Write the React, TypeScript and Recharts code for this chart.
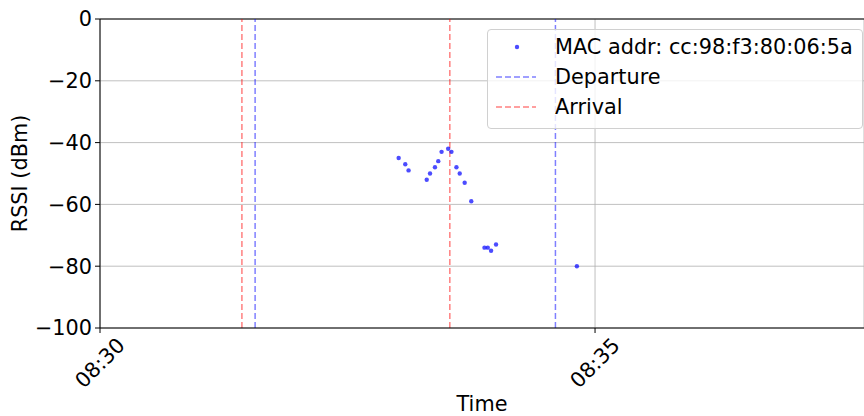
import React from 'react';
import {
  ScatterChart,
  Scatter,
  XAxis,
  YAxis,
  CartesianGrid,
  ReferenceLine,
  Label,
} from 'recharts';

// RSSI samples for one device (time, dBm)
const sampleTimes = [
  '08:33:01', '08:33:05', '08:33:07', '08:33:18', '08:33:20', '08:33:23',
  '08:33:25', '08:33:27', '08:33:31', '08:33:33', '08:33:36', '08:33:38',
  '08:33:41', '08:33:45', '08:33:53', '08:33:55', '08:33:57', '08:34:00',
  '08:34:49',
];
const rssiValues = [
  -45, -47, -49, -52, -50, -48,
  -46, -43, -42, -43, -48, -50,
  -53, -59, -74, -74, -75, -73,
  -80,
];
const departures = ['08:31:34', '08:34:36'];
const arrivals = ['08:31:26', '08:33:32'];
const xTickLabels = ['08:30', '08:35'];
const xRange = ['08:30:00', '08:37:43'];
const yTicks = [0, -20, -40, -60, -80, -100];
const macAddr = 'cc:98:f3:80:06:5a';

const toSec = (s: string) => {
  const [h, m, sec] = s.split(':').map(Number);
  return h * 3600 + m * 60 + (sec || 0);
};
const fmtTime = (v: number) => {
  const h = Math.floor(v / 3600);
  const m = Math.floor((v % 3600) / 60);
  return `${String(h).padStart(2, '0')}:${String(m).padStart(2, '0')}`;
};

const data = sampleTimes.map((t, i) => ({ t: toSec(t), rssi: rssiValues[i] }));

const FONT = '"DejaVu Sans", sans-serif';
const FS = 20.8;

const XTick = (props: any) => {
  const { x, y, payload } = props;
  return (
    <text
      transform={`translate(${x},${y + 30}) rotate(-45)`}
      textAnchor="middle"
      dominantBaseline="central"
      fontFamily={FONT}
      fontSize={FS}
      fill="#000"
    >
      {fmtTime(payload.value)}
    </text>
  );
};

const Dot = (props: any) => (
  <circle cx={props.cx} cy={props.cy} r={2.2} fill="#0000ff" fillOpacity={0.7} />
);

const LegendBox = () => (
  <div
    style={{
      position: 'absolute',
      left: 487,
      top: 29,
      width: 374,
      height: 98,
      background: 'rgba(255,255,255,0.8)',
      border: '1px solid #d0d0d0',
      borderRadius: 4,
    }}
  >
    <svg width={374} height={98} style={{ position: 'absolute', left: 0, top: 0 }}>
      <circle cx={29} cy={17} r={2.2} fill="#0000ff" fillOpacity={0.7} />
      <line x1={8} x2={48} y1={47} y2={47} stroke="#0000ff" strokeOpacity={0.5} strokeWidth={1.5} strokeDasharray="6 3" />
      <line x1={8} x2={48} y1={77} y2={77} stroke="#ff0000" strokeOpacity={0.5} strokeWidth={1.5} strokeDasharray="6 3" />
      <text x={67} y={17} dominantBaseline="central" fontFamily={FONT} fontSize={FS}>{`MAC addr: ${macAddr}`}</text>
      <text x={67} y={47} dominantBaseline="central" fontFamily={FONT} fontSize={FS}>Departure</text>
      <text x={67} y={77} dominantBaseline="central" fontFamily={FONT} fontSize={FS}>Arrival</text>
    </svg>
  </div>
);

export default function App() {
  return (
    <div style={{ position: 'relative', width: 864, height: 416, overflow: 'hidden', background: '#fff' }}>
      <style>{`html, body { margin: 0; padding: 0; overflow: hidden; }`}</style>
      <ScatterChart width={864} height={416} margin={{ top: 19, right: 0, bottom: 0, left: 0 }}>
        <CartesianGrid stroke="#b0b0b0" strokeWidth={0.8} />
        <XAxis
          type="number"
          dataKey="t"
          domain={[toSec(xRange[0]), toSec(xRange[1])]}
          ticks={xTickLabels.map(toSec)}
          tick={<XTick />}
          tickSize={5}
          tickMargin={0}
          height={88}
          stroke="#000"
          allowDataOverflow
        >
          <Label
            content={(p: any) => (
              <text
                x={p.viewBox.x + p.viewBox.width / 2}
                y={411}
                textAnchor="middle"
                fontFamily={FONT}
                fontSize={FS}
                fill="#000"
              >
                Time
              </text>
            )}
          />
        </XAxis>
        <YAxis
          type="number"
          dataKey="rssi"
          domain={[-100, 0]}
          ticks={yTicks}
          width={100}
          tickSize={5}
          tickMargin={3}
          stroke="#000"
          tick={{ fill: '#000', fontFamily: FONT, fontSize: FS }}
          tickFormatter={(v: number) => String(v).replace('-', '\u2212')}
        >
          <Label value="RSSI (dBm)" angle={-90} position="center" dx={-30} fontFamily={FONT} fontSize={FS} fill="#000" />
        </YAxis>
        <ReferenceLine y={0} stroke="#000" strokeWidth={1} />
        {departures.map((d) => (
          <ReferenceLine key={'d' + d} x={toSec(d)} stroke="#0000ff" strokeOpacity={0.5} strokeWidth={1.5} strokeDasharray="6 3" />
        ))}
        {arrivals.map((a) => (
          <ReferenceLine key={'a' + a} x={toSec(a)} stroke="#ff0000" strokeOpacity={0.5} strokeWidth={1.5} strokeDasharray="6 3" />
        ))}
        <Scatter data={data} shape={<Dot />} isAnimationActive={false} />
      </ScatterChart>
      <LegendBox />
    </div>
  );
}
